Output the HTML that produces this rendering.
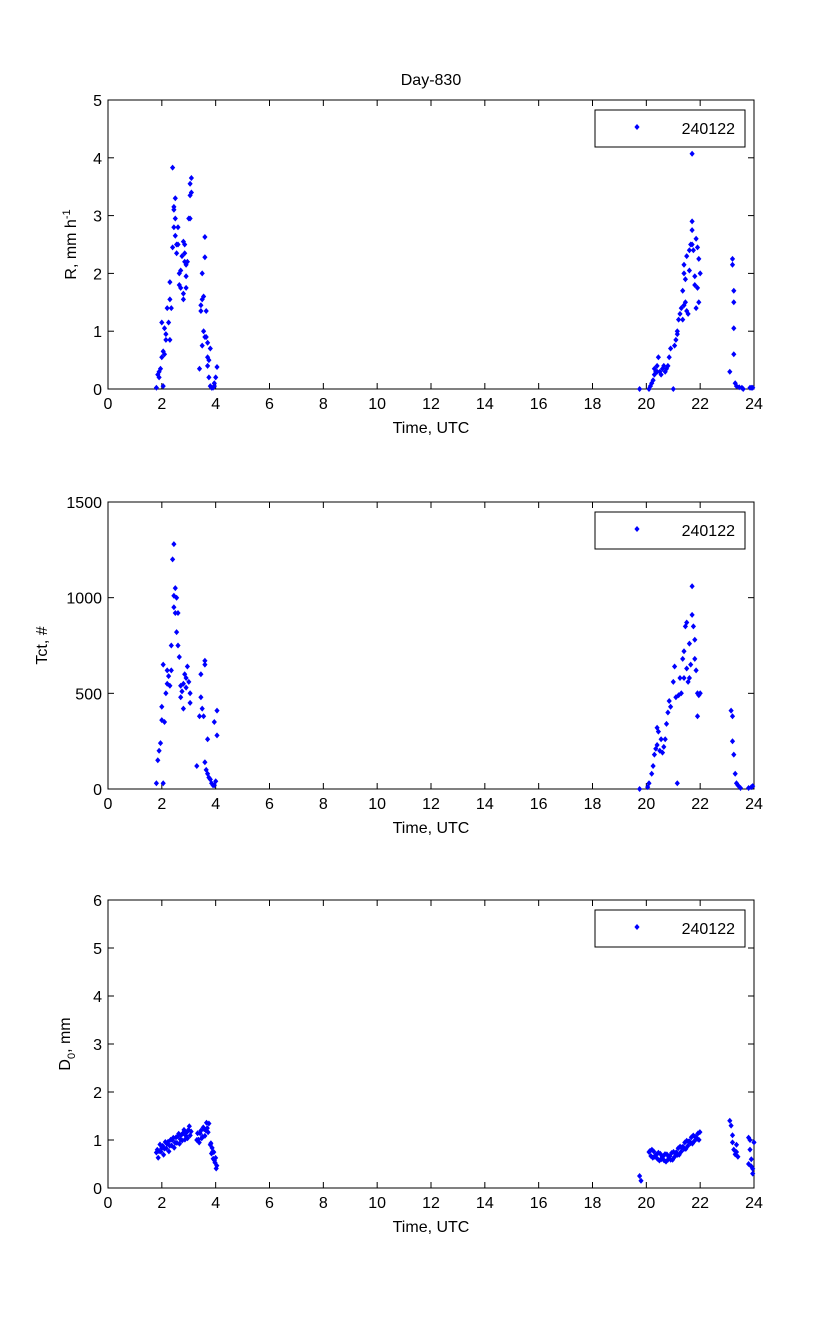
<!DOCTYPE html>
<html><head><meta charset="utf-8"><style>
html,body{margin:0;padding:0;background:#fff}
svg{display:block}
text{font-family:"Liberation Sans",Arial,sans-serif;fill:#000}
</style></head><body>
<svg id="s" width="833" height="1334" xmlns="http://www.w3.org/2000/svg">
<defs><path id="d" d="M0,-3 L2.6,0 L0,3 L-2.6,0 Z" fill="#0000ff"/></defs>
<rect width="833" height="1334" fill="#fff"/>
<text x="431" y="85" font-size="16" text-anchor="middle">Day-830</text>
</svg>
<script>
var s=document.getElementById('s'),NS='http://www.w3.org/2000/svg';
function el(t,a,txt){var e=document.createElementNS(NS,t);for(var k in a)e.setAttribute(k,a[k]);if(txt!=null)e.textContent=txt;s.appendChild(e);return e;}
var X0=108,X1=754;function px(h){return X0+(X1-X0)*h/24;}
function axes(top,bot,ymax,ystep,ylab,pts,ylabHtml){
  var H=bot-top;function py(v){return bot-H*v/ymax;}
  el('rect',{x:X0,y:top,width:X1-X0,height:H,fill:'none',stroke:'#000','stroke-width':1});
  for(var h=0;h<=24;h+=2){var x=px(h);
    el('line',{x1:x,y1:bot,x2:x,y2:bot-6,stroke:'#000'});el('line',{x1:x,y1:top,x2:x,y2:top+6,stroke:'#000'});
    el('text',{x:x,y:bot+20,'font-size':16,'text-anchor':'middle'},String(h));}
  for(var v=0;v<=ymax;v+=ystep){var y=py(v);
    el('line',{x1:X0,y1:y,x2:X0+6,y2:y,stroke:'#000'});el('line',{x1:X1,y1:y,x2:X1-6,y2:y,stroke:'#000'});
    el('text',{x:X0-6,y:y+6,'font-size':16,'text-anchor':'end'},String(v));}
  el('text',{x:431,y:bot+44,'font-size':16,'text-anchor':'middle'},'Time, UTC');
  var t=el('text',{transform:'translate('+ylab[0]+','+((top+bot)/2)+') rotate(-90)','font-size':16,'text-anchor':'middle'});
  t.innerHTML=ylabHtml;
  el('rect',{x:595,y:top+10,width:150,height:37,fill:'#fff',stroke:'#000'});
  el('use',{href:'#d',x:637,y:top+27});
  el('text',{x:735,y:top+34,'font-size':16,'text-anchor':'end'},'240122');
  pts.forEach(function(p){el('use',{href:'#d',x:px(p[0]).toFixed(1),y:py(Math.min(p[1],ymax)).toFixed(1)});});
}
var R=[[1.8,0.02],[1.85,0.25],[1.9,0.2],[1.95,0.35],[1.9,0.3],[2.0,0.55],[2.05,0.65],[2.05,0.05],[2.1,0.6],[2.0,1.15],[2.15,0.85],[2.1,1.05],[2.15,0.95],[2.2,1.4],[2.25,1.15],[2.3,0.85],[2.3,1.55],[2.3,1.85],[2.35,1.4],[2.4,2.45],[2.45,2.8],[2.45,3.1],[2.45,3.15],[2.5,3.3],[2.5,2.95],[2.5,2.65],[2.55,2.5],[2.55,2.35],[2.6,2.8],[2.6,2.5],[2.65,1.8],[2.65,2.0],[2.7,1.75],[2.7,2.05],[2.75,2.3],[2.8,1.55],[2.8,1.65],[2.85,2.5],[2.85,2.2],[2.8,2.55],[2.85,2.35],[2.9,1.75],[2.9,1.95],[2.9,2.15],[2.95,2.2],[3.0,2.95],[3.05,2.95],[3.05,3.35],[3.05,3.55],[3.1,3.65],[3.1,3.4],[2.4,3.83],[3.4,0.35],[3.45,1.45],[3.45,1.35],[3.5,2.0],[3.5,1.55],[3.55,1.6],[3.55,1.0],[3.5,0.75],[3.6,2.63],[3.6,2.28],[3.6,0.9],[3.65,1.35],[3.65,0.9],[3.7,0.55],[3.7,0.4],[3.75,0.5],[3.7,0.8],[3.8,0.7],[3.75,0.2],[3.8,0.05],[3.85,0.02],[3.9,0.02],[3.95,0.1],[4.0,0.2],[4.05,0.38],[3.95,0.05],
[19.75,0],[20.1,0],[20.15,0.05],[20.2,0.1],[20.25,0.15],[20.3,0.25],[20.35,0.3],[20.3,0.35],[20.4,0.3],[20.4,0.4],[20.45,0.55],[20.5,0.3],[20.55,0.25],[20.6,0.35],[20.65,0.4],[20.7,0.3],[20.75,0.35],[20.8,0.4],[20.85,0.55],[20.9,0.7],[21.0,0.0],[21.05,0.75],[21.1,0.85],[21.15,0.95],[21.15,1.0],[21.2,1.2],[21.25,1.3],[21.3,1.4],[21.35,1.2],[21.35,1.7],[21.4,1.45],[21.4,2.0],[21.45,1.9],[21.45,1.5],[21.5,2.3],[21.5,1.35],[21.55,1.3],[21.6,2.05],[21.6,2.4],[21.65,2.5],[21.7,2.75],[21.7,2.9],[21.7,4.07],[21.75,2.4],[21.8,1.95],[21.8,1.8],[21.85,2.6],[21.9,2.45],[21.9,1.75],[21.95,1.5],[21.95,2.25],[22.0,2.0],[21.85,1.4],[21.4,2.15],[21.7,2.5],
[23.1,0.3],[23.2,2.25],[23.2,2.15],[23.25,1.7],[23.25,1.5],[23.25,1.05],[23.25,0.6],[23.3,0.1],[23.35,0.05],[23.45,0.03],[23.55,0.02],[23.6,0],[23.85,0.02],[23.9,0.02],[23.95,0.02]];
var T=[[1.8,30],[1.85,150],[1.9,200],[1.95,240],[2.0,360],[2.0,430],[2.05,650],[2.05,30],[2.1,350],[2.15,500],[2.2,550],[2.2,620],[2.25,590],[2.3,540],[2.35,750],[2.35,620],[2.4,1200],[2.45,1280],[2.45,1010],[2.5,1050],[2.5,920],[2.45,950],[2.55,820],[2.55,1000],[2.6,920],[2.6,750],[2.65,690],[2.7,540],[2.7,480],[2.75,510],[2.8,420],[2.8,550],[2.85,600],[2.9,580],[2.9,530],[2.95,640],[3.0,560],[3.05,500],[3.05,450],[3.3,120],[3.4,380],[3.45,600],[3.45,480],[3.5,420],[3.55,380],[3.6,670],[3.6,650],[3.6,140],[3.65,100],[3.7,260],[3.7,80],[3.75,60],[3.8,50],[3.85,30],[3.9,20],[3.95,20],[4.0,40],[4.05,410],[4.05,280],[3.95,350],
[19.75,0],[20.05,10],[20.1,30],[20.2,80],[20.25,120],[20.3,180],[20.35,210],[20.4,230],[20.4,320],[20.45,300],[20.5,200],[20.55,260],[20.6,190],[20.65,220],[20.7,260],[20.75,340],[20.8,400],[20.85,460],[20.9,430],[21.0,560],[21.05,640],[21.1,480],[21.15,30],[21.2,490],[21.25,580],[21.3,500],[21.35,680],[21.4,720],[21.45,850],[21.5,870],[21.5,630],[21.55,560],[21.6,760],[21.6,580],[21.65,650],[21.7,1060],[21.7,910],[21.75,850],[21.8,780],[21.8,680],[21.85,620],[21.9,500],[21.9,380],[21.95,490],[22.0,500],[21.4,580],
[23.15,410],[23.2,380],[23.2,250],[23.25,180],[23.3,80],[23.35,30],[23.4,20],[23.5,5],[23.8,5],[23.9,10],[23.95,15]];
var D=[],i,h;
for(i=0;i<40;i++){h=1.8+i*0.033;D.push([h,0.74+0.45*(h-1.8)/1.3+0.1*Math.sin(i*2.1)+0.05*Math.sin(i*5.3)]);}
for(i=0;i<16;i++){h=3.3+i*0.03;D.push([h,1.0+0.3*(i/15)+0.12*Math.sin(i*1.7)]);}
for(i=0;i<12;i++){h=3.8+i*0.022;D.push([h,0.9-0.45*(i/11)+0.1*Math.sin(i*2.3)]);}
D.push([19.75,0.25],[19.8,0.15]);
for(i=0;i<55;i++){h=20.1+i*0.035;D.push([h,0.75-0.12*Math.sin((h-20.1)*2.5)+0.2*Math.max(0,h-20.9)+0.08*Math.sin(i*2.7)]);}
D.push([23.1,1.4],[23.15,1.3],[23.2,1.1],[23.2,0.95],[23.25,0.8],[23.3,0.7],[23.35,0.75],[23.4,0.65],[23.35,0.9],[23.8,1.05],[23.85,1.0],[23.85,0.8],[23.9,0.6],[23.9,0.45],[23.95,0.4],[23.95,0.3],[24.0,0.95],[23.8,0.5]);
axes(100,389,5,1,[76],R,'R, mm h<tspan dy="-6" font-size="11">-1</tspan>');
axes(502,789,1500,500,[47],T,'Tct, #');
axes(900,1188,6,1,[70],D,'D<tspan dy="5" font-size="11">0</tspan><tspan dy="-5">, mm</tspan>');
</script>
</body></html>
